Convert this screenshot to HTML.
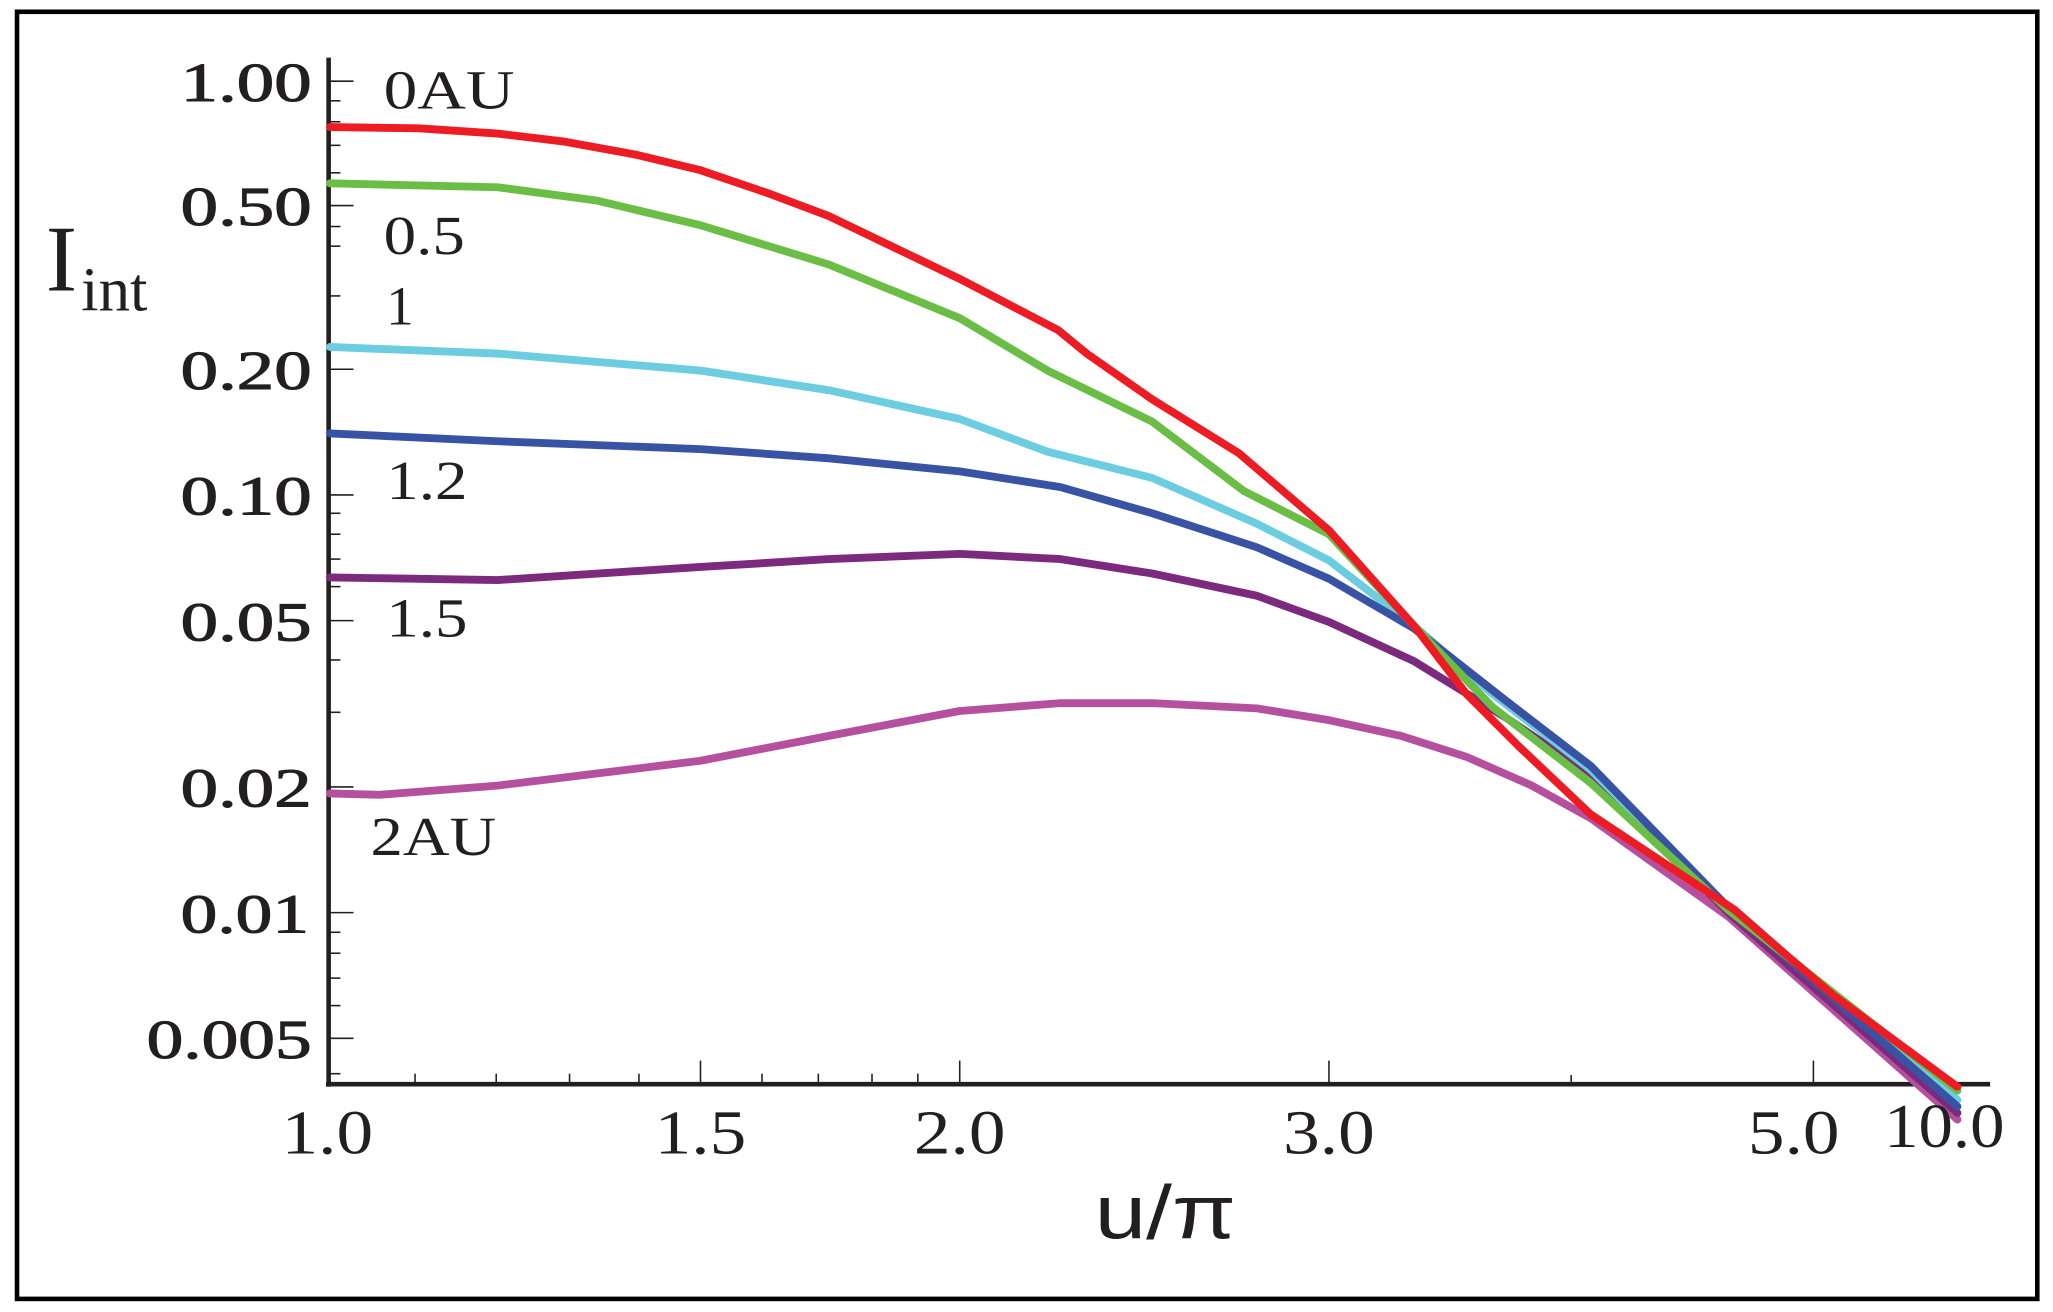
<!DOCTYPE html>
<html><head><meta charset="utf-8"><style>
html,body{margin:0;padding:0;background:#fff}
svg{display:block}
</style></head><body>
<svg width="2053" height="1312" viewBox="0 0 1568 1002" preserveAspectRatio="none" xmlns="http://www.w3.org/2000/svg">
<rect x="0" y="0" width="1568" height="1002" fill="#fff"/>
<rect x="13" y="9" width="1543" height="983" fill="none" stroke="#000" stroke-width="3.5"/>
<g stroke="#231f20" fill="none">
<line x1="251" y1="44" x2="251" y2="830" stroke-width="3.5"/>
<line x1="249" y1="828" x2="1520" y2="828" stroke-width="3.5"/>
<g stroke-width="1.2">
<line x1="251" y1="62" x2="270" y2="62"/>
<line x1="251" y1="157" x2="270" y2="157"/>
<line x1="251" y1="282" x2="270" y2="282"/>
<line x1="251" y1="378" x2="270" y2="378"/>
<line x1="251" y1="474" x2="270" y2="474"/>
<line x1="251" y1="601" x2="270" y2="601"/>
<line x1="251" y1="697" x2="270" y2="697"/>
<line x1="251" y1="793" x2="270" y2="793"/>
<line x1="251" y1="77" x2="260" y2="77"/>
<line x1="251" y1="93" x2="260" y2="93"/>
<line x1="251" y1="111" x2="260" y2="111"/>
<line x1="251" y1="132" x2="260" y2="132"/>
<line x1="251" y1="188" x2="260" y2="188"/>
<line x1="251" y1="226" x2="260" y2="226"/>
<line x1="251" y1="173" x2="260" y2="173"/>
<line x1="251" y1="392" x2="260" y2="392"/>
<line x1="251" y1="408" x2="260" y2="408"/>
<line x1="251" y1="427" x2="260" y2="427"/>
<line x1="251" y1="448" x2="260" y2="448"/>
<line x1="251" y1="504" x2="260" y2="504"/>
<line x1="251" y1="544" x2="260" y2="544"/>
<line x1="251" y1="712" x2="260" y2="712"/>
<line x1="251" y1="728" x2="260" y2="728"/>
<line x1="251" y1="747" x2="260" y2="747"/>
<line x1="251" y1="768" x2="260" y2="768"/>
<line x1="251" y1="820" x2="260" y2="820"/>
<line x1="535" y1="828" x2="535" y2="810"/>
<line x1="733" y1="828" x2="733" y2="810"/>
<line x1="1015" y1="828" x2="1015" y2="810"/>
<line x1="1385" y1="828" x2="1385" y2="810"/>
<line x1="317" y1="828" x2="317" y2="820"/>
<line x1="379" y1="828" x2="379" y2="820"/>
<line x1="435" y1="828" x2="435" y2="820"/>
<line x1="488" y1="828" x2="488" y2="820"/>
<line x1="582" y1="828" x2="582" y2="820"/>
<line x1="625" y1="828" x2="625" y2="820"/>
<line x1="666" y1="828" x2="666" y2="820"/>
<line x1="701" y1="828" x2="701" y2="820"/>
<line x1="1200" y1="828" x2="1200" y2="821"/>
</g>
</g>
<g fill="none" stroke-width="6" stroke-linecap="round" stroke-linejoin="round">
<polyline stroke="#B5509E" points="252,606 290,607 380,600 535,581 633,562 733,543 810,537 880,537 960,541 1015,550 1070,562 1120,578 1170,600 1215,625 1320,700 1495,855"/>
<polyline stroke="#7B2A7D" points="252,441 380,443 535,433 633,427 733,423 810,427 880,438 960,455 1015,475 1080,505 1150,548 1215,592 1320,697 1495,850"/>
<polyline stroke="#6DCDE0" points="252,265 380,270 535,283 633,298 733,320 800,345 880,365 960,400 1015,428 1080,478 1140,530 1215,588 1320,693 1495,840"/>
<polyline stroke="#3953A4" points="252,331 380,337 535,343 633,350 733,360 810,372 880,392 960,418 1015,442 1080,480 1150,535 1215,585 1320,693 1495,845"/>
<polyline stroke="#6ABD45" points="252,140 380,143 455,153 535,172 633,202 733,243 800,283 880,322 950,375 1015,408 1080,478 1140,540 1215,598 1320,695 1495,833"/>
<polyline stroke="#ED1C24" points="252,97 320,98 380,102 430,108 485,118 535,130 585,147 633,165 685,190 733,213 808,252 830,270 880,305 946,346 1015,405 1080,478 1120,530 1160,570 1215,622 1325,695 1365,730 1400,760 1495,830"/>
</g>
<g font-family="Liberation Serif, serif" fill="#231f20" font-size="42">
<g stroke="#231f20" stroke-width="0.8">
<text x="238" y="77" text-anchor="end" textLength="100" lengthAdjust="spacingAndGlyphs">1.00</text>
<text x="238" y="172" text-anchor="end" textLength="100" lengthAdjust="spacingAndGlyphs">0.50</text>
<text x="238" y="297" text-anchor="end" textLength="100" lengthAdjust="spacingAndGlyphs">0.20</text>
<text x="238" y="393" text-anchor="end" textLength="100" lengthAdjust="spacingAndGlyphs">0.10</text>
<text x="238" y="489" text-anchor="end" textLength="100" lengthAdjust="spacingAndGlyphs">0.05</text>
<text x="238" y="616" text-anchor="end" textLength="100" lengthAdjust="spacingAndGlyphs">0.02</text>
<text x="236" y="712" text-anchor="end" textLength="98" lengthAdjust="spacingAndGlyphs">0.01</text>
<text x="238" y="808" text-anchor="end" textLength="126" lengthAdjust="spacingAndGlyphs">0.005</text>
</g>
<text x="293" y="83" textLength="100" lengthAdjust="spacingAndGlyphs">0AU</text>
<text x="293" y="194" textLength="62" lengthAdjust="spacingAndGlyphs">0.5</text>
<text x="295" y="248">1</text>
<text x="295" y="381" textLength="62" lengthAdjust="spacingAndGlyphs">1.2</text>
<text x="295" y="486" textLength="62" lengthAdjust="spacingAndGlyphs">1.5</text>
<text x="283" y="653" textLength="96" lengthAdjust="spacingAndGlyphs">2AU</text>
<g font-size="48">
<text x="250" y="881" text-anchor="middle" textLength="70" lengthAdjust="spacingAndGlyphs">1.0</text>
<text x="535" y="881" text-anchor="middle" textLength="70" lengthAdjust="spacingAndGlyphs">1.5</text>
<text x="733" y="881" text-anchor="middle" textLength="70" lengthAdjust="spacingAndGlyphs">2.0</text>
<text x="1015" y="881" text-anchor="middle" textLength="70" lengthAdjust="spacingAndGlyphs">3.0</text>
<text x="1370" y="881" text-anchor="middle" textLength="70" lengthAdjust="spacingAndGlyphs">5.0</text>
<text x="1485" y="876" text-anchor="middle" textLength="92" lengthAdjust="spacingAndGlyphs">10.0</text>
</g>
<text x="35" y="222" font-size="72">I</text>
<text x="62" y="237" font-size="48">int</text>
</g>
<text x="890" y="946" text-anchor="middle" font-family="Liberation Sans, sans-serif" font-size="58" fill="#231f20" textLength="108" lengthAdjust="spacingAndGlyphs">u/π</text>
</svg>
</body></html>
